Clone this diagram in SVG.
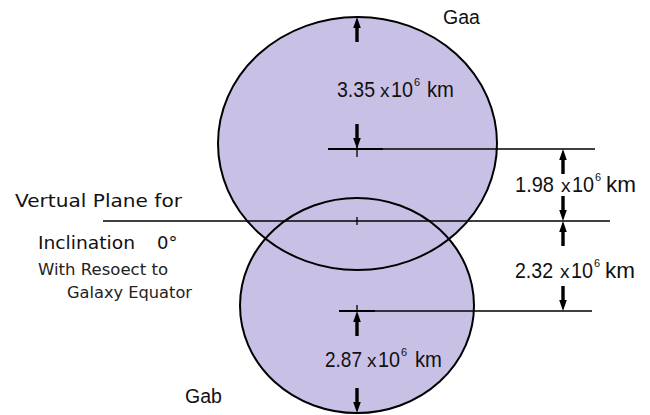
<svg xmlns="http://www.w3.org/2000/svg" xmlns:xlink="http://www.w3.org/1999/xlink" width="650" height="415" viewBox="0 0 650 415">
<style>
.body{fill:#c9c1e5;stroke:none}
.outline{fill:none;stroke:#000;stroke-width:2}
.ln{stroke:#000;stroke-width:1.3;fill:none}
.lnb{stroke:#000;stroke-width:2;fill:none}
.t{font-family:"Liberation Sans",Arial,sans-serif;fill:#111}
.num{font-size:21.5px}
.x{font-size:19px}
.sup{font-size:11px}
.lbl{font-family:"DejaVu Sans","Liberation Sans",sans-serif;font-size:18px;fill:#111}
.sm{font-family:"DejaVu Sans","Liberation Sans",sans-serif;font-size:15.5px;fill:#222}
.arr{fill:#000}
</style>
<defs>
<path id="arrowUp" d="M0,0 L3.8,11 L1.7,11 L1.7,25 L-1.7,25 L-1.7,11 L-3.8,11 Z"/>
</defs>
<rect width="650" height="415" fill="#fff"/>
<g id="gaa">
<ellipse class="body" cx="357.5" cy="143.5" rx="139.5" ry="126.5"/>
<text class="t" x="443" y="24" style="font-size:19.5px">Gaa</text>
</g>
<g id="gab">
<ellipse class="body" cx="357" cy="305.5" rx="117" ry="107.5"/>
<text class="t" x="185" y="403" style="font-size:19.5px">Gab</text>
</g>
<g id="outlines">
<ellipse class="outline" cx="357.5" cy="143.5" rx="139.5" ry="126.5"/>
<ellipse class="outline" cx="357" cy="305.5" rx="117" ry="107.5"/>
</g>
<g id="connectors">
<line class="ln" x1="383" y1="149" x2="595" y2="149"/>
<line class="lnb" x1="328" y1="149" x2="383" y2="149"/>
<line class="ln" x1="357" y1="140" x2="357" y2="157"/>
<line class="ln" x1="103" y1="221" x2="610" y2="221"/>
<line class="ln" x1="357" y1="217" x2="357" y2="225"/>
<line class="ln" x1="375" y1="311" x2="592" y2="311"/>
<line class="lnb" x1="339" y1="311" x2="375" y2="311"/>
<line class="ln" x1="357" y1="305" x2="357" y2="312"/>
<use class="arr" xlink:href="#arrowUp" transform="translate(357,17)"/>
<use class="arr" xlink:href="#arrowUp" transform="translate(357,149) rotate(180)"/>
<use class="arr" xlink:href="#arrowUp" transform="translate(563,149)"/>
<use class="arr" xlink:href="#arrowUp" transform="translate(563,221) rotate(180)"/>
<use class="arr" xlink:href="#arrowUp" transform="translate(563,221)"/>
<use class="arr" xlink:href="#arrowUp" transform="translate(563,311) rotate(180)"/>
<use class="arr" xlink:href="#arrowUp" transform="translate(357,311)"/>
<use class="arr" xlink:href="#arrowUp" transform="translate(357,413) rotate(180)"/>
</g>
<g id="dim-gaa">
<text class="t num" x="337" y="97" textLength="38" lengthAdjust="spacingAndGlyphs">3.35</text>
<text class="t x" x="380" y="97">x</text>
<text class="t num" x="391" y="97" textLength="22" lengthAdjust="spacingAndGlyphs">10</text>
<text class="t sup" x="414" y="86">6</text>
<text class="t num" x="427" y="97" textLength="27" lengthAdjust="spacingAndGlyphs">km</text>
</g>
<g id="dim-upper">
<text class="t num" x="515" y="192" textLength="39" lengthAdjust="spacingAndGlyphs">1.98</text>
<text class="t x" x="561" y="192">x</text>
<text class="t num" x="572" y="192" textLength="22" lengthAdjust="spacingAndGlyphs">10</text>
<text class="t sup" x="595" y="181">6</text>
<text class="t num" x="606" y="192" textLength="30" lengthAdjust="spacingAndGlyphs">km</text>
</g>
<g id="dim-lower">
<text class="t num" x="515" y="278" textLength="38" lengthAdjust="spacingAndGlyphs">2.32</text>
<text class="t x" x="560" y="278">x</text>
<text class="t num" x="571" y="278" textLength="22" lengthAdjust="spacingAndGlyphs">10</text>
<text class="t sup" x="594" y="267">6</text>
<text class="t num" x="605" y="278" textLength="30" lengthAdjust="spacingAndGlyphs">km</text>
</g>
<g id="dim-gab">
<text class="t num" x="325" y="367" textLength="37" lengthAdjust="spacingAndGlyphs">2.87</text>
<text class="t x" x="367" y="367">x</text>
<text class="t num" x="378" y="367" textLength="22" lengthAdjust="spacingAndGlyphs">10</text>
<text class="t sup" x="401" y="356">6</text>
<text class="t num" x="415" y="367" textLength="27" lengthAdjust="spacingAndGlyphs">km</text>
</g>
<g id="plane-label">
<text class="lbl" x="15" y="207" textLength="167" lengthAdjust="spacingAndGlyphs">Vertual Plane for</text>
<text class="lbl" x="38" y="249" textLength="97" lengthAdjust="spacingAndGlyphs">Inclination</text>
<text class="lbl" x="157" y="249">0°</text>
<text class="sm" x="38" y="275" textLength="130" lengthAdjust="spacingAndGlyphs">With Resoect to</text>
<text class="sm" x="67" y="298" textLength="125" lengthAdjust="spacingAndGlyphs">Galaxy Equator</text>
</g>
</svg>
